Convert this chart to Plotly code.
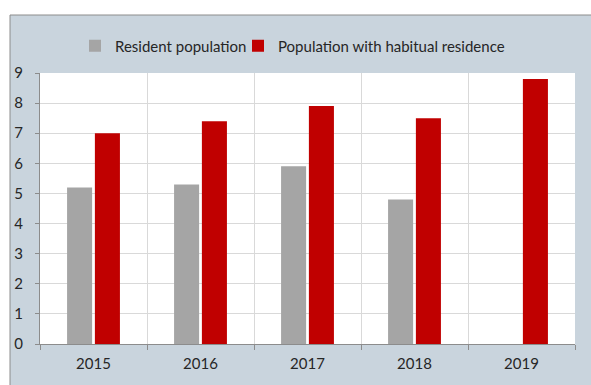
import plotly.graph_objects as go

years = ["2015", "2016", "2017", "2018", "2019"]
resident = [5.2, 5.3, 5.9, 4.8, None]
habitual = [7.0, 7.4, 7.9, 7.5, 8.8]
y_ticks = [0, 1, 2, 3, 4, 5, 6, 7, 8, 9]

FONT = "Lato"
TXT = "#262626"

fig = go.Figure()
fig.add_trace(go.Bar(x=years, y=resident, name="Resident population",
                     marker=dict(color="#a5a5a5", line=dict(width=0)), legend="legend"))
fig.add_trace(go.Bar(x=years, y=habitual, name="Population with habitual residence",
                     marker=dict(color="#c00000", line=dict(width=0)), legend="legend2"))

W, H = 591, 385
l, r, t, b = 40, 16, 73, 41
pw, ph = W - l - r, H - t - b

def px_x(p):
    return (p - l) / pw

def px_y(p):
    return 1 - (p - t) / ph

legend_common = dict(orientation="h", xanchor="left", y=px_y(46), yanchor="middle",
                     font=dict(family=FONT, size=15, color=TXT),
                     itemwidth=30, bgcolor="rgba(0,0,0,0)")

fig.update_layout(
    width=W, height=H,
    margin=dict(l=l, r=r, t=t, b=b, pad=0),
    paper_bgcolor="white",
    plot_bgcolor="white",
    barmode="group",
    bargap=0.48,
    bargroupgap=0.1,
    font=dict(family=FONT, size=15, color=TXT),
    showlegend=True,
    legend=dict(x=px_x(75), **legend_common),
    legend2=dict(x=px_x(238), **legend_common),
    shapes=[
        dict(type="rect", xref="paper", yref="paper",
             x0=px_x(10), x1=px_x(W + 20), y0=px_y(H + 20), y1=px_y(15),
             fillcolor="#c9d4dd", line=dict(color="#8c8c8c", width=1), layer="below"),
        dict(type="rect", xref="paper", yref="paper",
             x0=0, x1=1, y0=0, y1=1,
             fillcolor="white", line=dict(width=0), layer="below"),
    ],
    xaxis=dict(type="category", tickson="boundaries", showgrid=True, gridcolor="#d9d9d9",
               gridwidth=1, ticks="outside", ticklen=5, tickcolor="#8c8c8c",
               showline=True, linecolor="#8c8c8c", linewidth=1,
               tickfont=dict(family=FONT, size=15, color=TXT), ticklabelstandoff=6,
               zeroline=False),
    yaxis=dict(range=[0, 9], tickvals=y_ticks, showgrid=True, gridcolor="#d9d9d9",
               gridwidth=1, ticks="outside", ticklen=4, tickcolor="#8c8c8c",
               showline=True, linecolor="#8c8c8c", linewidth=1, zeroline=False,
               tickfont=dict(family=FONT, size=15, color=TXT), ticklabelstandoff=9),
)

fig.write_html("out.html")
